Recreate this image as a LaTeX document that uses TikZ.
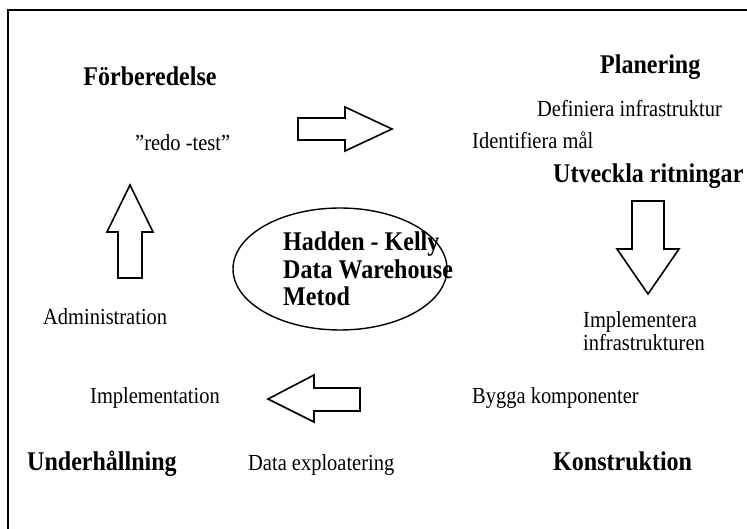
\documentclass[tikz,border=0pt]{standalone}
\usepackage{fontspec}
\setmainfont[FakeStretch=0.89]{Liberation Serif}
\usetikzlibrary{shapes.geometric}
\begin{document}
\begin{tikzpicture}[x=1pt,y=-1pt,
  reg/.style={anchor=base west, inner sep=0pt, align=left, font=\fontsize{23}{23}\selectfont},
  hd/.style={anchor=base west, inner sep=0pt, align=left, font=\fontsize{27}{27.5}\selectfont\bfseries},
  blockarrow/.style={draw, line width=1.6pt, line join=miter},
  frame/.style={line width=2pt}]
\useasboundingbox (0,0) rectangle (747,529);
\draw[frame] (8,529) -- (8,10) -- (747,10);

% headings
\node[hd, anchor=base] (forb) at (150,86) {Förberedelse};
\node[hd] (plan) at (600,74) {Planering};
\node[hd] (utv) at (553,183) {Utveckla ritningar};
\node[hd] (underh) at (27,470) {Underhållning};
\node[hd] (konstr) at (553,470) {Konstruktion};

% regular texts
\node[reg] (redo) at (135,151) {”redo -test”};
\node[reg] (def) at (537,117) {Definiera infrastruktur};
\node[reg] (ident) at (472,149) {Identifiera mål};
\node[reg] (impinf) at (583,350) {Implementera\\infrastrukturen};
\node[reg] (admin) at (43,325) {Administration};
\node[reg] (impl) at (90,403) {Implementation};
\node[reg] (bygga) at (472,403) {Bygga komponenter};
\node[reg] (dataexp) at (248,470) {Data exploatering};

% central ellipse
\node[draw, ellipse, line width=1.4pt, minimum width=214pt, minimum height=122pt] (core) at (340,269) {};
\node[hd] (coretext) at (283,306) {Hadden - Kelly\\Data Warehouse\\Metod};

% block arrows
\draw[blockarrow] (298,118) -- (345,118) -- (345,107) -- (392,129) -- (345,151) -- (345,140) -- (298,140) -- cycle;
\draw[blockarrow] (632,201) -- (664,201) -- (664,249) -- (679,249) -- (648,294) -- (617,249) -- (632,249) -- cycle;
\draw[blockarrow] (360,388) -- (314,388) -- (314,375) -- (268,399) -- (314,422) -- (314,411) -- (360,411) -- cycle;
\draw[blockarrow] (118,278) -- (118,232) -- (107,232) -- (130,185) -- (153,232) -- (142,232) -- (142,278) -- cycle;
\end{tikzpicture}
\end{document}
